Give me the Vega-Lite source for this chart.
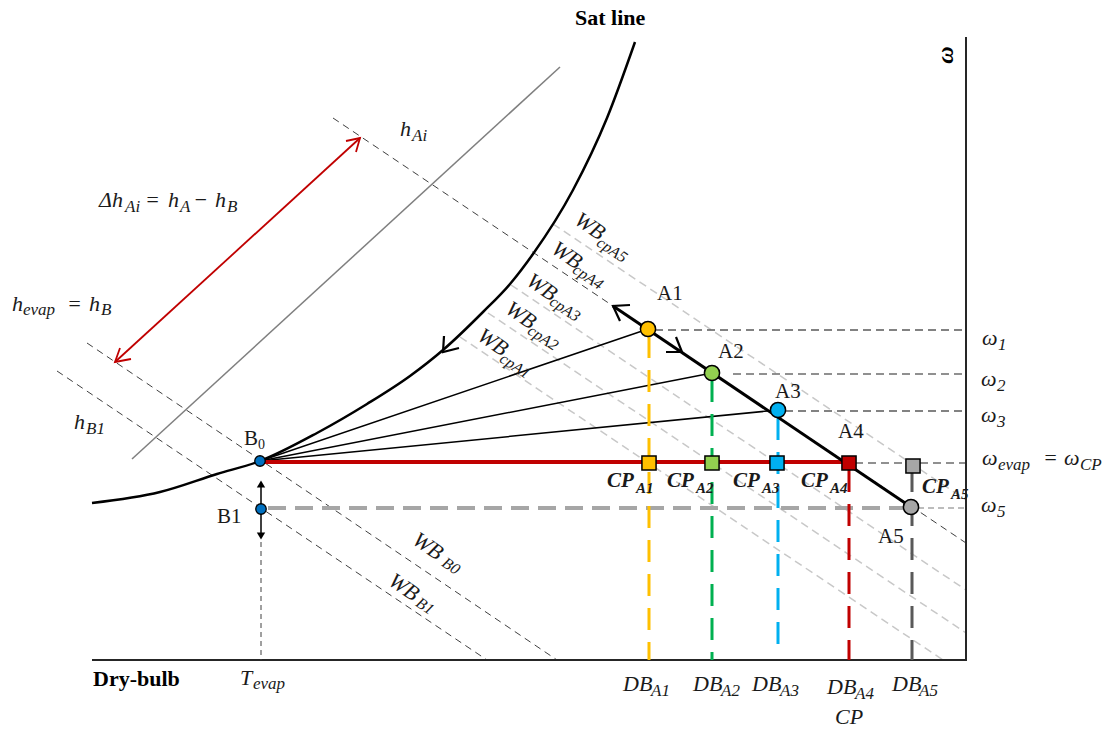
{
"$schema": "https://vega.github.io/schema/vega-lite/v6.json",
"width": 1106, "height": 729, "padding": 0, "autosize": {"type": "none"},
"background": "white",
"config": {"view": {"stroke": null}},
"encoding": {
  "x": {"field": "x", "type": "quantitative", "scale": {"domain": [0, 1106], "nice": false, "zero": false}, "axis": null},
  "y": {"field": "y", "type": "quantitative", "scale": {"domain": [0, 729], "nice": false, "zero": false, "reverse": true}, "axis": null}
},
"datasets": {
  "axes": [{"x": 92, "y": 660, "x2": 967, "y2": 660}, {"x": 966, "y": 37, "x2": 966, "y2": 661}],
  "lightDash": [{"x": 460, "y": 337, "x2": 943, "y2": 660}, {"x": 488, "y": 313, "x2": 966, "y2": 633}, {"x": 511, "y": 285, "x2": 966, "y2": 590}, {"x": 553, "y": 224, "x2": 966, "y2": 500}],
  "darkDash": [{"x": 333, "y": 118, "x2": 966, "y2": 543}, {"x": 87, "y": 343, "x2": 557, "y2": 660}, {"x": 57, "y": 371, "x2": 487, "y2": 660}],
  "grayDiag": [{"x": 132, "y": 459, "x2": 560, "y2": 67}],
  "redArrow": [{"x": 115, "y": 362, "x2": 360, "y2": 138}],
  "sat": [{"x": 92, "y": 503}, {"x": 160, "y": 492}, {"x": 217, "y": 474}, {"x": 260, "y": 461}, {"x": 317, "y": 433}, {"x": 367, "y": 404}, {"x": 410, "y": 376}, {"x": 443, "y": 350}, {"x": 483, "y": 312}, {"x": 510, "y": 284}, {"x": 533, "y": 254}, {"x": 573, "y": 190}, {"x": 607, "y": 118}, {"x": 635, "y": 42}],
  "fan": [{"x": 260, "y": 461, "x2": 648, "y2": 329}, {"x": 260, "y": 461, "x2": 712, "y2": 373}, {"x": 260, "y": 461, "x2": 778, "y2": 410}],
  "omegaGray": [{"x": 655, "y": 330, "x2": 966, "y2": 330}, {"x": 785, "y": 411, "x2": 966, "y2": 411}],
  "omegaBlack": [{"x": 733, "y": 374, "x2": 966, "y2": 374}, {"x": 855, "y": 463, "x2": 966, "y2": 463}],
  "omega5Thick": [{"x": 268, "y": 508, "x2": 905, "y2": 508}],
  "omega5Thin": [{"x": 918, "y": 508, "x2": 966, "y2": 508}],
  "dbLines": [{"k": "A1", "x": 649, "y": 336, "x2": 649, "y2": 660}, {"k": "A2", "x": 712, "y": 380, "x2": 712, "y2": 660}, {"k": "A3", "x": 778, "y": 418, "x2": 778, "y2": 650}, {"k": "A4", "x": 849, "y": 470, "x2": 849, "y2": 660}, {"k": "A5", "x": 912, "y": 470, "x2": 912, "y2": 660}],
  "redCP": [{"x": 260, "y": 462, "x2": 849, "y2": 462}],
  "thickA": [{"x": 613, "y": 306, "x2": 911, "y2": 507}],
  "blackArrows": [
    {"g": "a1", "i": 0, "x": 630, "y": 305}, {"g": "a1", "i": 1, "x": 613, "y": 306}, {"g": "a1", "i": 2, "x": 620, "y": 321},
    {"g": "a2", "i": 0, "x": 666, "y": 352}, {"g": "a2", "i": 1, "x": 682, "y": 352}, {"g": "a2", "i": 2, "x": 676, "y": 337},
    {"g": "a3", "i": 0, "x": 444, "y": 336}, {"g": "a3", "i": 1, "x": 443, "y": 352}, {"g": "a3", "i": 2, "x": 459, "y": 348}
  ],
  "redArrowHeads": [
    {"g": "r1", "i": 0, "x": 346, "y": 141}, {"g": "r1", "i": 1, "x": 360, "y": 138}, {"g": "r1", "i": 2, "x": 356, "y": 152},
    {"g": "r2", "i": 0, "x": 131, "y": 359}, {"g": "r2", "i": 1, "x": 115, "y": 362}, {"g": "r2", "i": 2, "x": 120, "y": 348}
  ],
  "tevap": [{"x": 261, "y": 542, "x2": 261, "y2": 660}],
  "b1line": [{"x": 261, "y": 482, "x2": 261, "y2": 536}],
  "triUp": [{"x": 261, "y": 484}],
  "triDown": [{"x": 261, "y": 536}],
  "smallPts": [{"k": "B", "x": 260, "y": 461}, {"k": "B", "x": 261, "y": 509}],
  "bigPts": [{"k": "A1", "x": 648, "y": 329}, {"k": "A2", "x": 712, "y": 373}, {"k": "A3", "x": 778, "y": 410}, {"k": "A5", "x": 911, "y": 507}],
  "squares": [{"k": "C1", "x": 649, "y": 463}, {"k": "C2", "x": 712, "y": 463}, {"k": "C3", "x": 777, "y": 463}, {"k": "C4", "x": 849, "y": 463}, {"k": "C5", "x": 913, "y": 466}],
  "txtRoman": [{"x": 657, "y": 300, "t": "A1"}, {"x": 718, "y": 358, "t": "A2"}, {"x": 775, "y": 398, "t": "A3"}, {"x": 838, "y": 438, "t": "A4"}, {"x": 878, "y": 543, "t": "A5"}, {"x": 244, "y": 445, "t": "B"}, {"x": 217, "y": 523, "t": "B1"}],
  "txtRomanSub": [{"x": 258, "y": 449, "t": "0"}],
  "txtBold": [{"x": 575, "y": 25, "t": "Sat line"}, {"x": 93, "y": 686, "t": "Dry-bulb"}],
  "txtMath": [
    {"x": 400, "y": 136, "t": "h"},
    {"x": 99, "y": 207, "t": "Δh"}, {"x": 145, "y": 207, "t": "="}, {"x": 168, "y": 207, "t": "h"}, {"x": 193, "y": 207, "t": "−"}, {"x": 215, "y": 207, "t": "h"},
    {"x": 12, "y": 311, "t": "h"}, {"x": 67, "y": 311, "t": "="}, {"x": 89, "y": 311, "t": "h"},
    {"x": 74, "y": 429, "t": "h"},
    {"x": 240, "y": 685, "t": "T"},
    {"x": 623, "y": 691, "t": "DB"}, {"x": 693, "y": 691, "t": "DB"}, {"x": 752, "y": 691, "t": "DB"}, {"x": 827, "y": 694, "t": "DB"}, {"x": 892, "y": 691, "t": "DB"},
    {"x": 835, "y": 724, "t": "CP"},
    {"x": 982, "y": 345, "t": "ω"}, {"x": 981, "y": 386, "t": "ω"}, {"x": 981, "y": 422, "t": "ω"}, {"x": 982, "y": 465, "t": "ω"}, {"x": 1043, "y": 465, "t": "="}, {"x": 1064, "y": 465, "t": "ω"}, {"x": 981, "y": 512, "t": "ω"}
  ],
  "txtMathSub": [
    {"x": 412, "y": 141, "t": "Ai"},
    {"x": 125, "y": 212, "t": "Ai"}, {"x": 180, "y": 212, "t": "A"}, {"x": 227, "y": 212, "t": "B"},
    {"x": 23, "y": 315, "t": "evap"}, {"x": 101, "y": 315, "t": "B"},
    {"x": 86, "y": 434, "t": "B1"},
    {"x": 253, "y": 689, "t": "evap"},
    {"x": 651, "y": 696, "t": "A1"}, {"x": 721, "y": 696, "t": "A2"}, {"x": 780, "y": 696, "t": "A3"}, {"x": 855, "y": 699, "t": "A4"}, {"x": 919, "y": 696, "t": "A5"},
    {"x": 998, "y": 350, "t": "1"}, {"x": 997, "y": 391, "t": "2"}, {"x": 997, "y": 427, "t": "3"}, {"x": 998, "y": 470, "t": "evap"}, {"x": 1080, "y": 470, "t": "CP"}, {"x": 997, "y": 517, "t": "5"}
  ],
  "txtCP": [{"x": 607, "y": 487, "t": "CP"}, {"x": 667, "y": 487, "t": "CP"}, {"x": 733, "y": 487, "t": "CP"}, {"x": 801, "y": 487, "t": "CP"}, {"x": 922, "y": 493, "t": "CP"}],
  "txtCPSub": [{"x": 636, "y": 493, "t": "A1"}, {"x": 696, "y": 493, "t": "A2"}, {"x": 762, "y": 493, "t": "A3"}, {"x": 830, "y": 493, "t": "A4"}, {"x": 951, "y": 499, "t": "A5"}],
  "txtWB": [{"x": 590, "y": 226, "t": "WB"}, {"x": 567, "y": 255, "t": "WB"}, {"x": 542, "y": 287, "t": "WB"}, {"x": 521, "y": 315, "t": "WB"}, {"x": 493, "y": 342, "t": "WB"}, {"x": 428, "y": 546, "t": "WB"}, {"x": 404, "y": 587, "t": "WB"}],
  "txtWBSub": [{"x": 612, "y": 250, "t": "cpA5"}, {"x": 588, "y": 277, "t": "cpA4"}, {"x": 565, "y": 309, "t": "cpA3"}, {"x": 543, "y": 338, "t": "cpA2"}, {"x": 515, "y": 366, "t": "cpA1"}, {"x": 451, "y": 566, "t": "B0"}, {"x": 425, "y": 606, "t": "B1"}],
  "txtOmega": [{"x": 946, "y": 55, "t": "ω"}]
},
"layer": [
  {"data": {"name": "lightDash"}, "mark": {"type": "rule", "stroke": "#C8C8C8", "strokeWidth": 1.5, "strokeDash": [8, 5]}, "encoding": {"x2": {"field": "x2"}, "y2": {"field": "y2"}}},
  {"data": {"name": "darkDash"}, "mark": {"type": "rule", "stroke": "#404040", "strokeWidth": 1, "strokeDash": [7, 5]}, "encoding": {"x2": {"field": "x2"}, "y2": {"field": "y2"}}},
  {"data": {"name": "grayDiag"}, "mark": {"type": "rule", "stroke": "#7F7F7F", "strokeWidth": 1.5}, "encoding": {"x2": {"field": "x2"}, "y2": {"field": "y2"}}},
  {"data": {"name": "redArrow"}, "mark": {"type": "rule", "stroke": "#C00000", "strokeWidth": 1.8}, "encoding": {"x2": {"field": "x2"}, "y2": {"field": "y2"}}},
  {"data": {"name": "redArrowHeads"}, "mark": {"type": "line", "stroke": "#C00000", "strokeWidth": 1.8}, "encoding": {"detail": {"field": "g"}, "order": {"field": "i"}}},
  {"data": {"name": "axes"}, "mark": {"type": "rule", "stroke": "#262626", "strokeWidth": 2}, "encoding": {"x2": {"field": "x2"}, "y2": {"field": "y2"}}},
  {"data": {"name": "sat"}, "mark": {"type": "line", "interpolate": "monotone", "stroke": "black", "strokeWidth": 2.5}, "encoding": {}},
  {"data": {"name": "fan"}, "mark": {"type": "rule", "stroke": "black", "strokeWidth": 1.5}, "encoding": {"x2": {"field": "x2"}, "y2": {"field": "y2"}}},
  {"data": {"name": "omegaGray"}, "mark": {"type": "rule", "stroke": "#595959", "strokeWidth": 1.4, "strokeDash": [8, 5]}, "encoding": {"x2": {"field": "x2"}, "y2": {"field": "y2"}}},
  {"data": {"name": "omegaBlack"}, "mark": {"type": "rule", "stroke": "#222222", "strokeWidth": 1.1, "strokeDash": [8, 5]}, "encoding": {"x2": {"field": "x2"}, "y2": {"field": "y2"}}},
  {"data": {"name": "omega5Thick"}, "mark": {"type": "rule", "stroke": "#A6A6A6", "strokeWidth": 4, "strokeDash": [18, 9]}, "encoding": {"x2": {"field": "x2"}, "y2": {"field": "y2"}}},
  {"data": {"name": "omega5Thin"}, "mark": {"type": "rule", "stroke": "#A6A6A6", "strokeWidth": 1.5, "strokeDash": [6, 4]}, "encoding": {"x2": {"field": "x2"}, "y2": {"field": "y2"}}},
  {"data": {"name": "dbLines"}, "mark": {"type": "rule", "strokeWidth": 3, "strokeDash": [22, 12]}, "encoding": {"x2": {"field": "x2"}, "y2": {"field": "y2"}, "stroke": {"field": "k", "type": "nominal", "scale": {"domain": ["A1", "A2", "A3", "A4", "A5"], "range": ["#FFC000", "#00B050", "#00B0F0", "#C00000", "#595959"]}, "legend": null}}},
  {"data": {"name": "redCP"}, "mark": {"type": "rule", "stroke": "#C00000", "strokeWidth": 4}, "encoding": {"x2": {"field": "x2"}, "y2": {"field": "y2"}}},
  {"data": {"name": "thickA"}, "mark": {"type": "rule", "stroke": "black", "strokeWidth": 3}, "encoding": {"x2": {"field": "x2"}, "y2": {"field": "y2"}}},
  {"data": {"name": "blackArrows"}, "mark": {"type": "line", "stroke": "black", "strokeWidth": 2.2}, "encoding": {"detail": {"field": "g"}, "order": {"field": "i"}}},
  {"data": {"name": "tevap"}, "mark": {"type": "rule", "stroke": "#404040", "strokeWidth": 1, "strokeDash": [5, 4]}, "encoding": {"x2": {"field": "x2"}, "y2": {"field": "y2"}}},
  {"data": {"name": "b1line"}, "mark": {"type": "rule", "stroke": "black", "strokeWidth": 1.5}, "encoding": {"x2": {"field": "x2"}, "y2": {"field": "y2"}}},
  {"data": {"name": "triUp"}, "mark": {"type": "point", "shape": "triangle-up", "filled": true, "fill": "black", "opacity": 1, "size": 70}, "encoding": {}},
  {"data": {"name": "triDown"}, "mark": {"type": "point", "shape": "triangle-down", "filled": true, "fill": "black", "opacity": 1, "size": 70}, "encoding": {}},
  {"data": {"name": "smallPts"}, "mark": {"type": "point", "shape": "circle", "filled": true, "stroke": "black", "strokeWidth": 1.3, "opacity": 1, "size": 110}, "encoding": {"fill": {"field": "k", "type": "nominal", "scale": {"domain": ["B", "A1", "A2", "A3", "A5", "C1", "C2", "C3", "C4", "C5"], "range": ["#0070C0", "#FFC000", "#92D050", "#00B0F0", "#A6A6A6", "#FFC000", "#92D050", "#00B0F0", "#C00000", "#A6A6A6"]}, "legend": null}}},
  {"data": {"name": "bigPts"}, "mark": {"type": "point", "shape": "circle", "filled": true, "stroke": "black", "strokeWidth": 1.5, "opacity": 1, "size": 230}, "encoding": {"fill": {"field": "k", "type": "nominal", "scale": {"domain": ["B", "A1", "A2", "A3", "A5", "C1", "C2", "C3", "C4", "C5"], "range": ["#0070C0", "#FFC000", "#92D050", "#00B0F0", "#A6A6A6", "#FFC000", "#92D050", "#00B0F0", "#C00000", "#A6A6A6"]}, "legend": null}}},
  {"data": {"name": "squares"}, "mark": {"type": "point", "shape": "square", "filled": true, "stroke": "black", "strokeWidth": 1.5, "opacity": 1, "size": 200}, "encoding": {"fill": {"field": "k", "type": "nominal", "scale": {"domain": ["B", "A1", "A2", "A3", "A5", "C1", "C2", "C3", "C4", "C5"], "range": ["#0070C0", "#FFC000", "#92D050", "#00B0F0", "#A6A6A6", "#FFC000", "#92D050", "#00B0F0", "#C00000", "#A6A6A6"]}, "legend": null}}},
  {"data": {"name": "txtRoman"}, "mark": {"type": "text", "font": "Liberation Serif", "fontSize": 21, "align": "left", "baseline": "alphabetic", "color": "#1a1a1a"}, "encoding": {"text": {"field": "t"}}},
  {"data": {"name": "txtRomanSub"}, "mark": {"type": "text", "font": "Liberation Serif", "fontSize": 14, "align": "left", "baseline": "alphabetic", "color": "#1a1a1a"}, "encoding": {"text": {"field": "t"}}},
  {"data": {"name": "txtBold"}, "mark": {"type": "text", "font": "Liberation Serif", "fontSize": 22, "fontWeight": "bold", "align": "left", "baseline": "alphabetic", "color": "black"}, "encoding": {"text": {"field": "t"}}},
  {"data": {"name": "txtMath"}, "mark": {"type": "text", "font": "Liberation Serif", "fontSize": 22, "fontStyle": "italic", "align": "left", "baseline": "alphabetic", "color": "#1a1a1a"}, "encoding": {"text": {"field": "t"}}},
  {"data": {"name": "txtMathSub"}, "mark": {"type": "text", "font": "Liberation Serif", "fontSize": 17, "fontStyle": "italic", "align": "left", "baseline": "alphabetic", "color": "#1a1a1a"}, "encoding": {"text": {"field": "t"}}},
  {"data": {"name": "txtCP"}, "mark": {"type": "text", "font": "Liberation Serif", "fontSize": 21, "fontStyle": "italic", "fontWeight": "bold", "align": "left", "baseline": "alphabetic", "color": "#1a1a1a"}, "encoding": {"text": {"field": "t"}}},
  {"data": {"name": "txtCPSub"}, "mark": {"type": "text", "font": "Liberation Serif", "fontSize": 15, "fontStyle": "italic", "fontWeight": "bold", "align": "left", "baseline": "alphabetic", "color": "#1a1a1a"}, "encoding": {"text": {"field": "t"}}},
  {"data": {"name": "txtWB"}, "mark": {"type": "text", "font": "Liberation Serif", "fontSize": 22, "fontStyle": "italic", "align": "center", "baseline": "middle", "angle": 34, "color": "#1a1a1a"}, "encoding": {"text": {"field": "t"}}},
  {"data": {"name": "txtWBSub"}, "mark": {"type": "text", "font": "Liberation Serif", "fontSize": 16, "fontStyle": "italic", "align": "center", "baseline": "middle", "angle": 34, "color": "#1a1a1a"}, "encoding": {"text": {"field": "t"}}},
  {"data": {"name": "txtOmega"}, "mark": {"type": "text", "font": "Liberation Serif", "fontSize": 24, "fontStyle": "italic", "fontWeight": "bold", "align": "center", "baseline": "middle", "angle": 270, "color": "black"}, "encoding": {"text": {"field": "t"}}}
]
}
